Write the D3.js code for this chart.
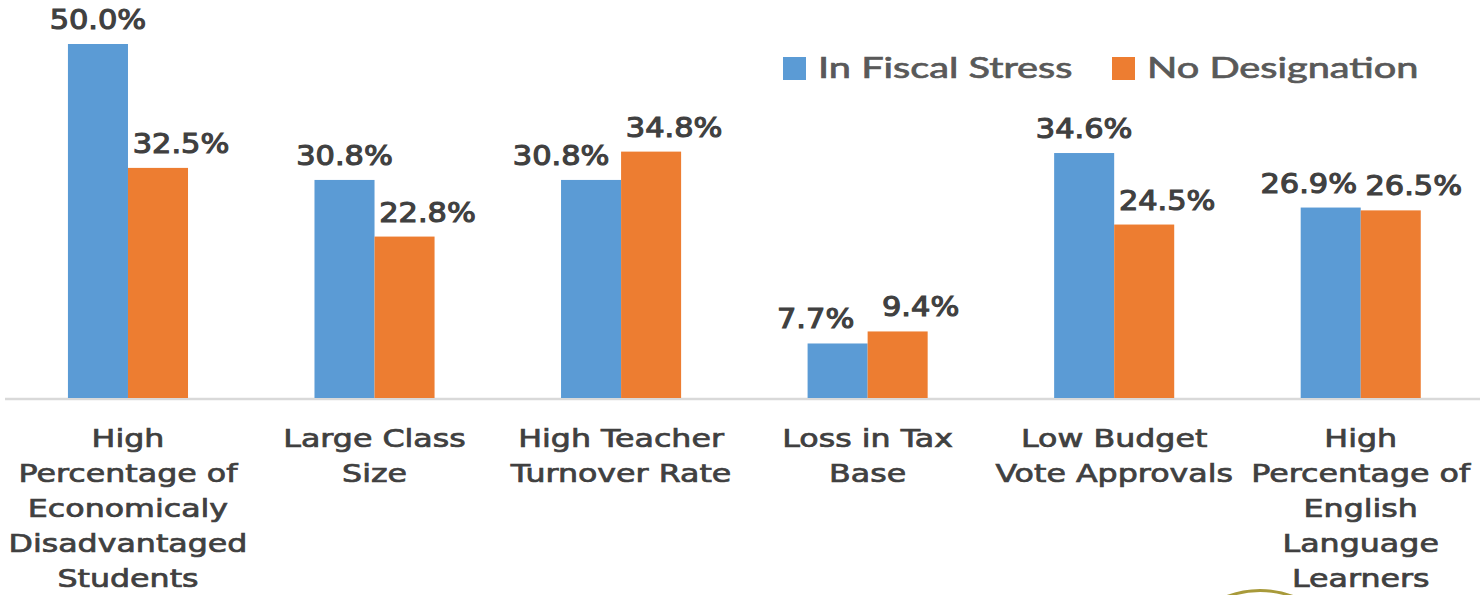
<!DOCTYPE html>
<html><head><meta charset="utf-8">
<script src="https://cdn.jsdelivr.net/npm/d3@7"></script>
<style>body{margin:0;background:#fff;}svg{display:block;}</style>
</head><body>
<script>
const categories = [
  ["High","Percentage of","Economicaly","Disadvantaged","Students"],
  ["Large Class","Size"],
  ["High Teacher","Turnover Rate"],
  ["Loss in Tax","Base"],
  ["Low Budget","Vote Approvals"],
  ["High","Percentage of","English","Language","Learners"]
];
const seriesNames = ["In Fiscal Stress","No Designation"];
const fiscalStress = [50.0, 30.8, 30.8, 7.7, 34.6, 26.9];
const noDesignation = [32.5, 22.8, 34.8, 9.4, 24.5, 26.5];
const colors = ["#5B9BD5","#ED7D31"];

const W = 1480, H = 595;
const svg = d3.select("body").append("svg").attr("width", W).attr("height", H);

const keys = categories.map((c,i)=>"c"+i);
const x0 = d3.scaleBand().domain(keys).range([4.7, 1484]).paddingInner(0.513).paddingOuter(0.2565);
const x1 = d3.scaleBand().domain([0,1]).range([0, x0.bandwidth()]);
const y = d3.scaleLinear().domain([0, 50]).range([398, 44]);

// axis line
svg.append("line").attr("x1", 5).attr("x2", W).attr("y1", 399).attr("y2", 399)
  .attr("stroke", "#d9d9d9").attr("stroke-width", 2.5);

const series = [fiscalStress, noDesignation];
series.forEach((vals, s) => {
  svg.append("g").selectAll("rect").data(vals).join("rect")
    .attr("x", (d,i)=>x0(keys[i]) + x1(s))
    .attr("width", x1.bandwidth())
    .attr("y", d=>y(d))
    .attr("height", d=>y(0)-y(d))
    .attr("fill", colors[s]);
});

// data labels
const labelFont = "DejaVu Sans";
const lblScale = 1.17, lblW = 96, lblH = 20, orangeOffset = 23;
categories.forEach((c,i) => {
  const bw = x1.bandwidth();
  const bx = [0,1].map(s => x0(keys[i]) + x1(s));
  const ys = [0,1].map(s => y(series[s][i]) - 15);
  const ox = bx[1] + bw/2 + orangeOffset;
  let bxc = bx[0] + bw/2;
  const bTop = ys[0] - lblH, bBot = ys[0];
  let limit = Infinity;
  if (bBot > y(series[1][i])) limit = Math.min(limit, bx[1] - 12);
  if (bBot > ys[1] - lblH && bTop < ys[1]) limit = Math.min(limit, ox - lblW/2 - 9);
  if (bxc + lblW/2 > limit) bxc = limit - lblW/2;
  [[bxc, ys[0], 0],[ox, ys[1], 1]].forEach(([xx, yy, s]) => {
    svg.append("text")
      .attr("transform", `translate(${xx},${yy}) scale(${lblScale},1)`)
      .attr("text-anchor","middle")
      .attr("font-family", labelFont).attr("font-size", 26)
      .attr("fill", "#404040")
      .attr("stroke", "#404040").attr("stroke-width", 1.1)
      .text(d3.format(".1f")(series[s][i]) + "%");
  });
});

// category labels
categories.forEach((lines,i) => {
  const cx = x0(keys[i]) + x0.bandwidth()/2;
  lines.forEach((ln, j) => {
    svg.append("text")
      .attr("transform", `translate(${cx},${447 + j*35}) scale(1.32,1)`)
      .attr("text-anchor","middle")
      .attr("font-family", labelFont).attr("font-size", 24)
      .attr("fill", "#404040")
      .attr("stroke", "#404040").attr("stroke-width", 0.7)
      .text(ln);
  });
});

// legend
const legendX = [783, 1112];
seriesNames.forEach((n, s) => {
  svg.append("rect").attr("x", legendX[s]).attr("y", 57).attr("width", 23).attr("height", 23)
    .attr("fill", colors[s]);
  svg.append("text")
    .attr("transform", `translate(${legendX[s]+35},78) scale(1.37,1)`)
    .attr("font-family", "Lato").attr("font-size", 29)
    .attr("fill", "#595959").attr("stroke","#595959").attr("stroke-width",0.7)
    .text(n);
});

// partial emblem at bottom
svg.append("path")
  .attr("d", d3.arc()({innerRadius: 92, outerRadius: 95, startAngle: -0.42, endAngle: 0.42}))
  .attr("transform", "translate(1260,684)")
  .attr("fill", "#a89a3a");
</script>
</body></html>
